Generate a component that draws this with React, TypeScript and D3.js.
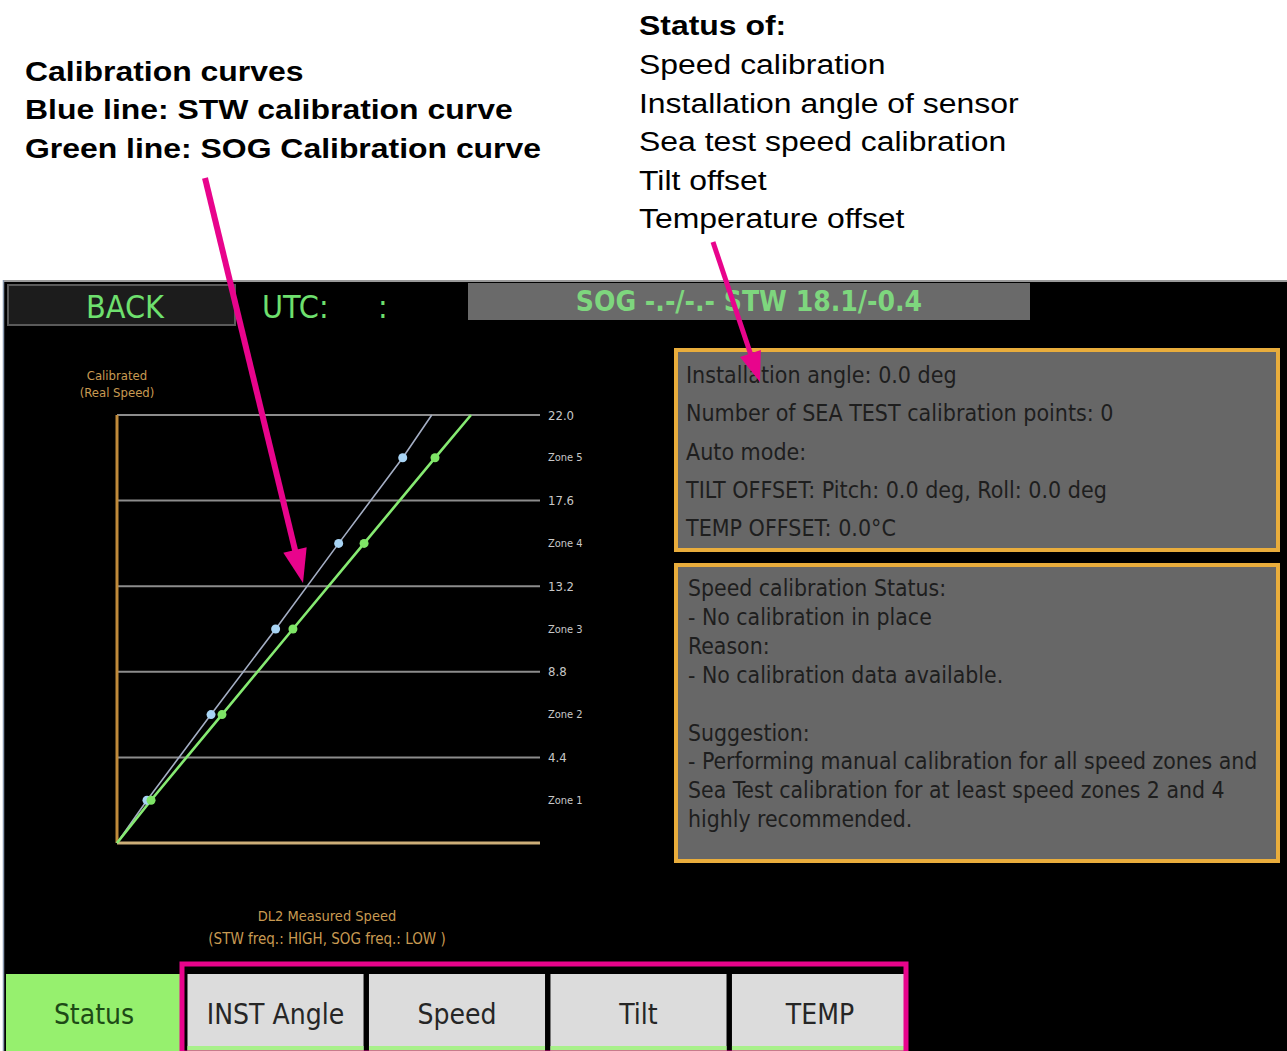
import * as d3 from 'd3';

// calibration curve data (knots)
const realSpeed = [0, 2.2, 6.6, 11.0, 15.4, 19.8, 22.0];
const stwMeasured = [0, 1.56, 4.89, 8.25, 11.53, 14.86, 16.37];
const sogMeasured = [0, 1.77, 5.46, 9.15, 12.85, 16.54, 18.41];

const gridTicks = [4.4, 8.8, 13.2, 17.6, 22.0];
const zoneValues = [2.2, 6.6, 11.0, 15.4, 19.8];
const zoneLabels = ['Zone 1', 'Zone 2', 'Zone 3', 'Zone 4', 'Zone 5'];

const leftNotes = ['Calibration curves', 'Blue line: STW calibration curve', 'Green line: SOG Calibration curve'];
const rightNotes = ['Speed calibration', 'Installation angle of sensor', 'Sea test speed calibration', 'Tilt offset', 'Temperature offset'];

const infoLines = [
  'Installation angle: 0.0 deg',
  'Number of SEA TEST calibration points: 0',
  'Auto mode:',
  'TILT OFFSET: Pitch: 0.0 deg, Roll: 0.0 deg',
  'TEMP OFFSET: 0.0°C',
];
const statusLines = [
  'Speed calibration Status:',
  '- No calibration in place',
  'Reason:',
  '- No calibration data available.',
  '',
  'Suggestion:',
  '- Performing manual calibration for all speed zones and',
  'Sea Test calibration for at least speed zones 2 and 4',
  'highly recommended.',
];
const tabs = ['Status', 'INST Angle', 'Speed', 'Tilt', 'TEMP'];

const W = 1287;
const H = 1051;
const screenFont = '"DejaVu Sans Condensed", "Liberation Sans Narrow", "DejaVu Sans", sans-serif';
const noteFont = '"Liberation Sans", Arial, sans-serif';
const magenta = '#e8048c';

function arrowHead(x1: number, y1: number, x2: number, y2: number, len: number, half: number) {
  const a = Math.atan2(y2 - y1, x2 - x1);
  const bx = x2 - len * Math.cos(a);
  const by = y2 - len * Math.sin(a);
  const px = -Math.sin(a) * half;
  const py = Math.cos(a) * half;
  return `M${x2},${y2}L${bx + px},${by + py}L${bx - px},${by - py}Z`;
}

export default function App() {
  const x = d3.scaleLinear().domain([0, 22]).range([117, 540]);
  const y = d3.scaleLinear().domain([0, 22]).range([843, 415]);

  const stw = realSpeed.map((r, i) => [stwMeasured[i], r] as [number, number]);
  const sog = realSpeed.map((r, i) => [sogMeasured[i], r] as [number, number]);
  const line = d3.line<[number, number]>().x(d => x(d[0])).y(d => y(d[1]));

  const tabX = d3.scaleBand().domain(tabs).range([6, 908]).paddingInner(0.03);

  const a1 = [205, 178, 303, 583];
  const a2 = [713, 242, 760, 382];

  return (
    <svg width={W} height={H} style={{ position: 'absolute', left: 0, top: 0, background: '#fff' }}>
      {/* annotations, the source picture is stretched sideways a little */}
      <g fontFamily={noteFont} fontSize={28} fill="#000">
        <g transform="translate(25,0) scale(1.14,1)">
          {leftNotes.map((t, i) => (
            <text key={t} x={0} y={81 + i * 38.5} fontWeight="bold">{t}</text>
          ))}
        </g>
        <g transform="translate(639,0) scale(1.14,1)">
          <text x={0} y={35} fontWeight="bold">Status of:</text>
          {rightNotes.map((t, i) => (
            <text key={t} x={0} y={74 + i * 38.6}>{t}</text>
          ))}
        </g>
      </g>

      {/* device screen */}
      <rect x={3} y={280} width={W - 3} height={H - 280} fill="#000" />
      <line x1={3} x2={W} y1={281} y2={281} stroke="#9a9a9a" strokeWidth={2} />
      <line x1={3.5} x2={3.5} y1={280} y2={H} stroke="#8a9ab0" strokeWidth={1.5} />

      {/* header */}
      <rect x={8} y={285} width={227} height={40} fill="#1c1c1c" stroke="#5a5a5a" strokeWidth={2} />
      <text x={125} y={307} textAnchor="middle" dominantBaseline="central" fontFamily={screenFont} fontSize={32} fill="#6ee06e">BACK</text>
      <text x={262} y={307} dominantBaseline="central" fontFamily={screenFont} fontSize={32} fill="#6ee06e">UTC:</text>
      <text x={378} y={307} dominantBaseline="central" fontFamily={screenFont} fontSize={32} fill="#6ee06e">:</text>
      <rect x={468} y={283} width={562} height={37} fill="#6a6a6a" />
      <text x={749} y={301} textAnchor="middle" dominantBaseline="central" fontFamily={screenFont} fontSize={28} fontWeight="bold" fill="#7ed67e">SOG -.-/-.- STW 18.1/-0.4</text>

      {/* chart */}
      <g>
        {gridTicks.map(t => (
          <g key={t}>
            <line x1={x(0)} x2={x(22)} y1={y(t)} y2={y(t)} stroke="#8c8c8c" strokeWidth={2} />
            <text x={548} y={y(t)} dominantBaseline="central" fontFamily={screenFont} fontSize={13} fill="#c8c8c8">{t.toFixed(1)}</text>
          </g>
        ))}
        {zoneValues.map((z, i) => (
          <text key={z} x={548} y={y(z)} dominantBaseline="central" fontFamily={screenFont} fontSize={11} fill="#c8c8c8">{zoneLabels[i]}</text>
        ))}
        <line x1={x(0)} x2={x(0)} y1={y(22)} y2={y(0)} stroke="#c08a3a" strokeWidth={3} />
        <line x1={x(0)} x2={x(22)} y1={y(0)} y2={y(0)} stroke="#cdae78" strokeWidth={3} />

        <path d={line(stw) || ''} fill="none" stroke="#a4aec4" strokeWidth={1.6} />
        <path d={line(sog) || ''} fill="none" stroke="#86ea72" strokeWidth={2.6} />
        {stw.slice(1, 6).map((d, i) => (
          <circle key={'b' + i} cx={x(d[0])} cy={y(d[1])} r={4.5} fill="#a8d4f4" />
        ))}
        {sog.slice(1, 6).map((d, i) => (
          <circle key={'g' + i} cx={x(d[0])} cy={y(d[1])} r={4.5} fill="#7ee466" />
        ))}

        <g fontFamily={screenFont} fill="#c89a52" textAnchor="middle">
          <text x={117} y={380} fontSize={13}>Calibrated</text>
          <text x={117} y={397} fontSize={13}>(Real Speed)</text>
          <text x={327} y={921} fontSize={14.5}>DL2 Measured Speed</text>
          <text x={327} y={944} fontSize={15}>(STW freq.: HIGH, SOG freq.: LOW )</text>
        </g>
      </g>

      {/* info panels */}
      <rect x={676} y={350} width={602} height={200} fill="#676767" stroke="#e9ad3c" strokeWidth={4} />
      {infoLines.map((t, i) => (
        <text key={t} x={686} y={375 + i * 38.3} dominantBaseline="central" fontFamily={screenFont} fontSize={23} fill="#1e1e1e">{t}</text>
      ))}
      <rect x={676} y={565} width={602} height={296} fill="#676767" stroke="#e9ad3c" strokeWidth={4} />
      {statusLines.map((t, i) => (
        <text key={i} x={688} y={588 + i * 28.9} dominantBaseline="central" fontFamily={screenFont} fontSize={22.8} fill="#1e1e1e">{t}</text>
      ))}

      {/* bottom tabs */}
      <rect x={6} y={972} width={902} height={H - 972} fill="#000" />
      {tabs.map((t, i) => (
        <g key={t}>
          <rect x={tabX(t)} y={974} width={tabX.bandwidth()} height={H - 974} fill={i === 0 ? '#96f06e' : '#dcdcdc'} />
          {i > 0 && <rect x={tabX(t)} y={H - 5} width={tabX.bandwidth()} height={5} fill="#a8f08a" />}
          <text x={(tabX(t) || 0) + tabX.bandwidth() / 2} y={1014} textAnchor="middle" dominantBaseline="central" fontFamily={screenFont} fontSize={28} fill={i === 0 ? '#1d4a16' : '#262626'}>{t}</text>
        </g>
      ))}
      <rect x={182} y={964} width={724} height={H - 962} fill="none" stroke={magenta} strokeWidth={5} />

      {/* arrows */}
      <line x1={a1[0]} y1={a1[1]} x2={a1[0] + (a1[2] - a1[0]) * 0.93} y2={a1[1] + (a1[3] - a1[1]) * 0.93} stroke={magenta} strokeWidth={6} />
      <path d={arrowHead(a1[0], a1[1], a1[2], a1[3], 34, 12)} fill={magenta} />
      <line x1={a2[0]} y1={a2[1]} x2={a2[0] + (a2[2] - a2[0]) * 0.85} y2={a2[1] + (a2[3] - a2[1]) * 0.85} stroke={magenta} strokeWidth={5} />
      <path d={arrowHead(a2[0], a2[1], a2[2], a2[3], 30, 11)} fill={magenta} />
    </svg>
  );
}
